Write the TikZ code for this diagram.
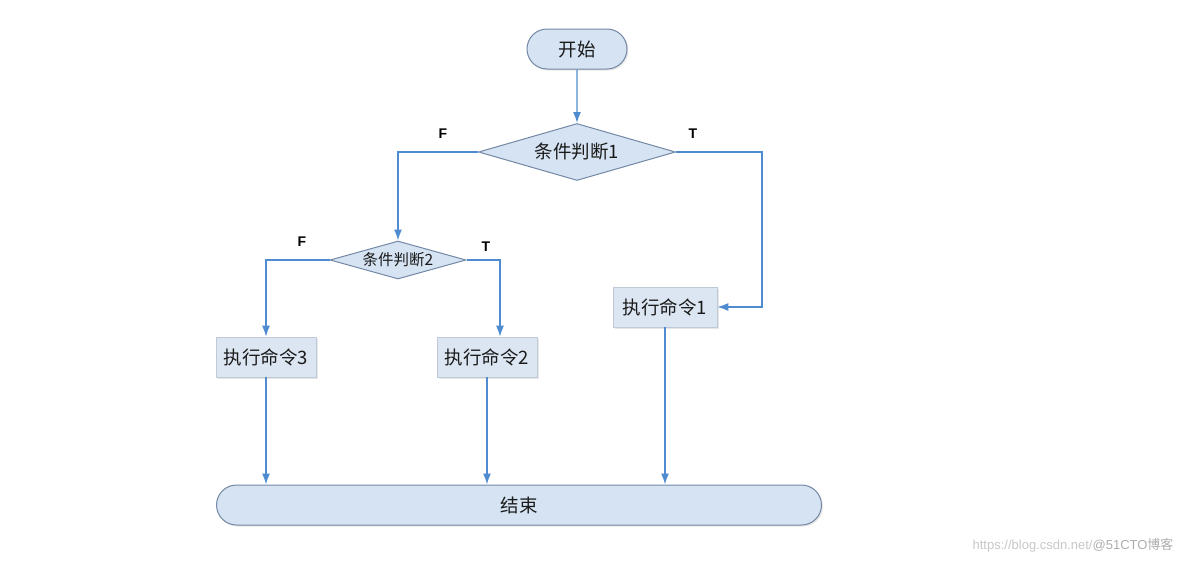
\documentclass[tikz,border=0pt]{standalone}
\usepackage{fontspec}
\setmainfont{Noto Sans CJK SC}
\newfontfamily\latinfont{Liberation Sans}
\newfontfamily\cjkfont{Noto Sans CJK SC}
\usetikzlibrary{shapes.geometric,shapes.misc,arrows.meta,shadows}

\definecolor{boxfill}{HTML}{DCE6F2}
\definecolor{boxline}{HTML}{95A7BE}
\definecolor{termfill}{HTML}{D5E3F3}
\definecolor{termline}{HTML}{7388A5}
\definecolor{flowblue}{HTML}{4F8CCF}
\definecolor{textdark}{HTML}{1A1A1A}

\begin{document}
\begin{tikzpicture}[
  term_box/.style={rounded rectangle, draw=termline, fill=termfill, line width=1pt, inner sep=0pt, text=textdark, font=\fontsize{18.5}{22}\selectfont, drop shadow={opacity=0.2, shadow xshift=1.5pt, shadow yshift=-1.5pt}},
  cond_box/.style={diamond, draw=termline, fill=termfill, line width=1pt, inner sep=0pt, text=textdark},
  exec_box/.style={rectangle, draw=boxline!60, fill=boxfill, line width=0.6pt, minimum width=100pt, minimum height=40pt, inner sep=0pt, text=textdark, font=\fontsize{18.5}{22}\selectfont, drop shadow={opacity=0.2, shadow xshift=1.5pt, shadow yshift=-1.5pt}},
  tf_label/.style={font=\latinfont\bfseries\fontsize{14}{16}\selectfont, text=black},
  flow_line/.style={draw=flowblue, line width=1.4pt},
  flow_arrow/.style={flow_line, -{Latex[length=11pt,width=8pt]}},
]
\useasboundingbox (0,0) rectangle (1184pt,-562pt);

% nodes
\draw (577pt,-49pt) node (start) [term_box, minimum width=100pt, minimum height=40pt] {开始};
\draw (577pt,-152pt) node (cond1) [cond_box, aspect=3.46, minimum width=197pt, minimum height=57pt, font=\fontsize{18.5}{22}\selectfont] {条件判断1};
\draw (398pt,-260pt) node (cond2) [cond_box, aspect=3.58, minimum width=136pt, minimum height=38pt, font=\fontsize{15.5}{18}\selectfont] {条件判断2};
\draw (665pt,-307pt) node (exec1) [exec_box, minimum width=104pt] {执行命令1};
\draw (487pt,-357pt) node (exec2) [exec_box] {执行命令2};
\draw (266pt,-357pt) node (exec3) [exec_box] {执行命令3};
\draw (519pt,-505pt) node (finish) [term_box, minimum width=605pt, minimum height=40pt] {结束};

% T / F labels
\draw (443pt,-134pt) node (f1) [tf_label] {F};
\draw (693pt,-134pt) node (t1) [tf_label] {T};
\draw (302pt,-242pt) node (f2) [tf_label] {F};
\draw (486pt,-247pt) node (t2) [tf_label] {T};

% connectors
\coordinate (t1_turn) at (762pt,-152pt);
\draw[flow_arrow] (start) -- (cond1);
\draw[flow_arrow] (cond1.west) -| (cond2.north);
\draw[flow_arrow] (cond1.east) -- (t1_turn) |- (exec1.east);
\draw[flow_arrow] (cond2.west) -| (exec3.north);
\draw[flow_arrow] (cond2.east) -| ([xshift=13pt]exec2.north);
\draw[flow_arrow] (exec3.south) -- (exec3.south |- finish.north);
\draw[flow_arrow] (exec2.south) -- (exec2.south |- finish.north);
\draw[flow_arrow] (exec1.south) -- (exec1.south |- finish.north);

% watermark
\draw (1177pt,-545pt) node (mark) [anchor=east, font=\latinfont\fontsize{13}{15}\selectfont, text=black!22] {https://blog.csdn.net/\textcolor{black!32}{@51CTO{\cjkfont 博客}}};
\end{tikzpicture}
\end{document}
